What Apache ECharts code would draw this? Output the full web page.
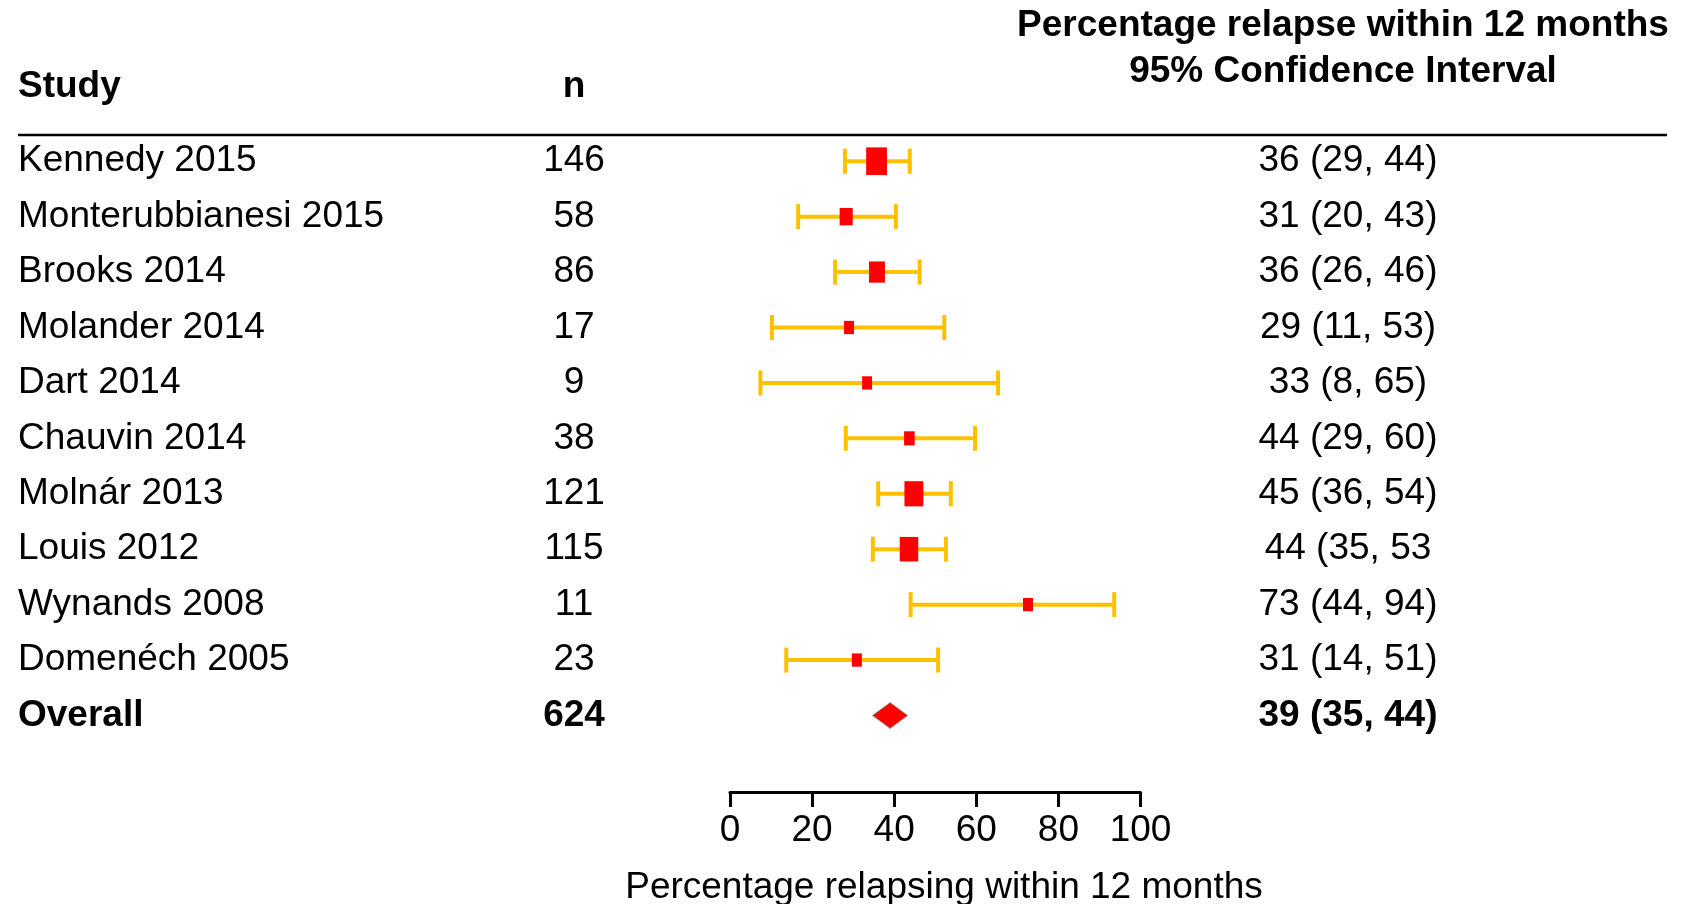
<!DOCTYPE html>
<html><head><meta charset="utf-8">
<script src="https://cdn.jsdelivr.net/npm/echarts@6/dist/echarts.min.js"></script>
<style>html,body{margin:0;padding:0;background:#fff}#c{width:1681px;height:904px}</style>
</head><body><div id="c"></div>
<script>
// ---- data ----
const studies = ['Kennedy 2015','Monterubbianesi 2015','Brooks 2014','Molander 2014','Dart 2014','Chauvin 2014','Molnár 2013','Louis 2012','Wynands 2008','Domenéch 2005','Overall'];
const nValues = [146, 58, 86, 17, 9, 38, 121, 115, 11, 23, 624];
const estimates = [35.7, 28.3, 35.8, 29.0, 33.4, 43.7, 44.8, 43.6, 72.6, 30.9, 39.0];
const lowerCI = [28.0, 16.6, 25.6, 10.2, 7.4, 28.2, 36.1, 34.8, 44.0, 13.7, 34.7];
const upperCI = [43.8, 40.4, 46.2, 52.2, 65.3, 59.7, 53.8, 52.6, 93.6, 50.7, 43.3];
const ciLabels = ['36 (29, 44)','31 (20, 43)','36 (26, 46)','29 (11, 53)','33 (8, 65)','44 (29, 60)','45 (36, 54)','44 (35, 53','73 (44, 94)','31 (14, 51)','39 (35, 44)'];
const xTicks = [0, 20, 40, 60, 80, 100];
const headerStudy = 'Study';
const headerN = 'n';
const headerCI = ['Percentage relapse within 12 months', '95% Confidence Interval'];
const xAxisTitle = 'Percentage relapsing within 12 months';

// ---- chart ----
const FONT = '"Liberation Sans", Arial, Helvetica, sans-serif';
const FS = 37;
const lastIdx = studies.length - 1;
const chart = echarts.init(document.getElementById('c'), null, {renderer: 'canvas'});

const seriesData = studies.map((s, i) => [lowerCI[i], upperCI[i], estimates[i], i, nValues[i], i === lastIdx ? 1 : 0]);

function boldFmt(v, i) { return i === lastIdx ? '{b|' + v + '}' : '{r|' + v + '}'; }
const rich = {
  b: {fontFamily: FONT, fontSize: FS, fontWeight: 'bold', color: '#000'},
  r: {fontFamily: FONT, fontSize: FS, color: '#000'}
};
function catAxis(data, position, margin, align) {
  return {
    type: 'category', data: data.map(String), inverse: true, position: position,
    axisLine: {show: false}, axisTick: {show: false}, splitLine: {show: false},
    axisLabel: {margin: margin, align: align, fontFamily: FONT, fontSize: FS, color: '#000', formatter: boldFmt, rich: rich}
  };
}

function renderItem(params, api) {
  const lo = api.value(0), hi = api.value(1), est = api.value(2), cat = api.value(3), n = api.value(4), overall = api.value(5);
  const pLo = api.coord([lo, cat]), pHi = api.coord([hi, cat]), pE = api.coord([est, cat]);
  const y = pE[1];
  if (overall) {
    return {type: 'polygon', shape: {points: [[pLo[0], y], [pE[0], y - 13], [pHi[0], y], [pE[0], y + 13]]},
      style: {fill: '#FF0000', stroke: '#9a9a9a', lineWidth: 1}};
  }
  const w = Math.max(10, 1.72 * Math.sqrt(n)), h = w * 1.33;
  const ws = {stroke: '#FFC000', lineWidth: 4};
  return {type: 'group', children: [
    {type: 'line', shape: {x1: pLo[0], y1: y, x2: pHi[0], y2: y}, style: ws},
    {type: 'line', shape: {x1: pLo[0], y1: y - 12.5, x2: pLo[0], y2: y + 12.5}, style: ws},
    {type: 'line', shape: {x1: pHi[0], y1: y - 12.5, x2: pHi[0], y2: y + 12.5}, style: ws},
    {type: 'rect', shape: {x: pE[0] - w / 2, y: y - h / 2, width: w, height: h}, style: {fill: '#FF0000'}}
  ]};
}

const option = {
  backgroundColor: '#fff',
  animation: false,
  grid: {left: 730, right: 540.5, top: 133.5, bottom: 160.8, containLabel: false},
  xAxis: {
    type: 'value', min: xTicks[0], max: xTicks[xTicks.length - 1], interval: xTicks[1] - xTicks[0],
    position: 'bottom', offset: 48.8,
    axisLine: {show: true, lineStyle: {color: '#000', width: 3}},
    axisTick: {show: true, length: 15, lineStyle: {color: '#000', width: 3}},
    axisLabel: {margin: 20, fontFamily: FONT, fontSize: FS, color: '#000'},
    splitLine: {show: false}
  },
  yAxis: [
    catAxis(studies, 'left', 712, 'left'),
    catAxis(nValues, 'left', 156, 'center'),
    catAxis(ciLabels, 'right', 207.5, 'center')
  ],
  series: [{
    type: 'custom', renderItem: renderItem, data: seriesData,
    encode: {x: [0, 1, 2], y: 3}, xAxisIndex: 0, yAxisIndex: 0, clip: false
  }],
  graphic: [
    {type: 'text', x: 18, y: 86.7, style: {text: headerStudy, font: 'bold ' + FS + 'px ' + FONT, align: 'left', verticalAlign: 'middle', fill: '#000'}},
    {type: 'text', x: 574, y: 86.7, style: {text: headerN, font: 'bold ' + FS + 'px ' + FONT, align: 'center', verticalAlign: 'middle', fill: '#000'}},
    {type: 'text', x: 1343, y: 25.6, style: {text: headerCI[0], font: 'bold ' + FS + 'px ' + FONT, align: 'center', verticalAlign: 'middle', fill: '#000'}},
    {type: 'text', x: 1343, y: 71.7, style: {text: headerCI[1], font: 'bold ' + FS + 'px ' + FONT, align: 'center', verticalAlign: 'middle', fill: '#000'}},
    {type: 'line', shape: {x1: 18, y1: 135, x2: 1667, y2: 135}, style: {stroke: '#000', lineWidth: 2.5}},
    {type: 'text', x: 944, y: 887.5, style: {text: xAxisTitle, font: FS + 'px ' + FONT, align: 'center', verticalAlign: 'middle', fill: '#000'}}
  ]
};
chart.setOption(option);
</script>
</body></html>
